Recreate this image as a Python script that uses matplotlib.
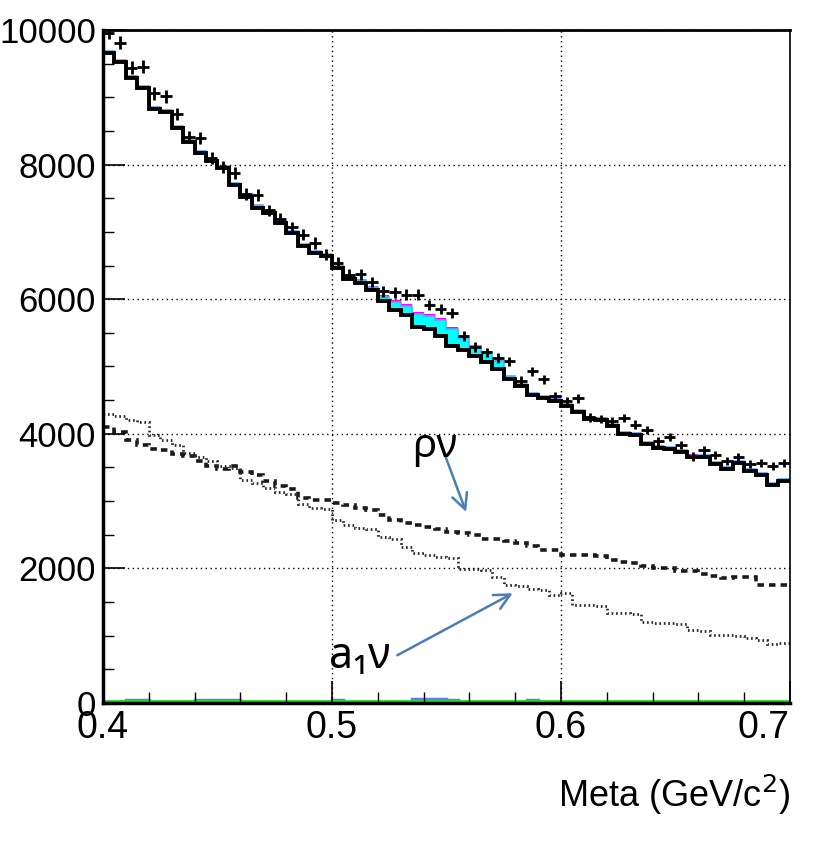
import numpy as np
import matplotlib.pyplot as plt
from matplotlib.ticker import MultipleLocator

# bins: 60 bins of 5 MeV from 0.4 to 0.7 GeV
edges = np.linspace(0.4, 0.7, 61)
centers = 0.5 * (edges[:-1] + edges[1:])

# background (black outline of the stack)
bkg = [9660, 9530, 9290, 9140, 8820, 8780, 8550, 8340, 8170, 8050,
       7950, 7700, 7520, 7360, 7280, 7130, 6990, 6790, 6690, 6640,
       6460, 6300, 6245, 6130, 5975, 5845, 5770, 5590, 5550, 5450,
       5300, 5250, 5150, 5060, 4970, 4810, 4710, 4580, 4530, 4480,
       4420, 4330, 4220, 4200, 4115, 4000, 3975, 3850, 3790, 3775,
       3725, 3650, 3650, 3550, 3480, 3565, 3440, 3390, 3235, 3305]

# stacked signal components on top of the background
cyan_sig = [30, 30, 25, 35, 30, 25, 30, 30, 25, 30,
            30, 30, 25, 35, 30, 30, 25, 30, 30, 25,
            30, 35, 40, 45, 55, 120, 125, 190, 195, 240,
            260, 180, 150, 150, 110, 45, 35, 30, 30, 30,
            25, 30, 25, 30, 30, 25, 30, 25, 30, 25,
            30, 25, 30, 25, 30, 25, 30, 25, 30, 25]
magenta_sig = [0, 0, 15, 0, 0, 15, 0, 0, 0, 15,
               0, 0, 0, 0, 0, 15, 0, 0, 0, 0,
               0, 0, 15, 20, 25, 25, 30, 30, 30, 30,
               30, 25, 25, 25, 20, 0, 0, 0, 0, 15,
               0, 0, 0, 15, 0, 0, 0, 0, 15, 0,
               0, 20, 0, 0, 0, 0, 0, 0, 0, 0]

# data points
data = [9960, 9810, 9440, 9455, 9060, 9015, 8750, 8410, 8400, 8100,
        7970, 7870, 7565, 7545, 7320, 7195, 7070, 6960, 6835, 6660,
        6540, 6365, 6370, 6255, 6116, 6102, 6067, 6067, 5918, 5850,
        5790, 5457, 5285, 5210, 5125, 5075, 4790, 4927, 4810, 4560,
        4480, 4525, 4245, 4220, 4185, 4233, 4134, 4055, 3886, 3951,
        3836, 3663, 3752, 3688, 3590, 3654, 3554, 3573, 3524, 3564]

# rho nu (dashed) and a1 nu (dotted) components
rho_nu = [4108, 4034, 3911, 3837, 3780, 3762, 3700, 3663, 3590, 3520,
          3480, 3514, 3430, 3390, 3300, 3227, 3180, 3040, 3019, 3010,
          2978, 2940, 2895, 2870, 2796, 2720, 2680, 2640, 2620, 2580,
          2540, 2520, 2490, 2434, 2434, 2400, 2370, 2340, 2275, 2275,
          2201, 2201, 2201, 2190, 2126, 2100, 2082, 2040, 2010, 2003,
          1967, 1960, 1918, 1880, 1854, 1878, 1870, 1755, 1755, 1755]
a1_nu = [4297, 4258, 4200, 4168, 3985, 3911, 3837, 3713, 3650, 3600,
         3514, 3490, 3316, 3267, 3200, 3142, 3100, 2950, 2895, 2880,
         2721, 2650, 2598, 2590, 2464, 2434, 2324, 2226, 2200, 2171,
         2150, 1988, 1988, 1980, 1878, 1755, 1740, 1691, 1680, 1606,
         1631, 1457, 1457, 1440, 1334, 1334, 1320, 1209, 1185, 1185,
         1170, 1086, 1070, 1011, 1011, 1000, 962, 940, 877, 897]

# small components near zero
blue_low = [0, 0, 45, 40, 0, 0, 0, 0, 45, 50,
            50, 45, 0, 0, 0, 0, 0, 0, 0, 0,
            40, 0, 0, 0, 0, 0, 0, 55, 60, 60,
            40, 0, 0, 0, 0, 0, 0, 40, 0, 0,
            0, 0, 0, 0, 0, 0, 0, 0, 0, 0,
            0, 0, 0, 0, 0, 0, 0, 0, 0, 0]
green_low = [20] * 60

xtick_vals = [0.4, 0.5, 0.6, 0.7]
xtick_text = ['0.4', '0.5', '0.6', '0.7']
ytick_vals = [0, 2000, 4000, 6000, 8000, 10000]
ytick_text = ['0', '2000', '4000', '6000', '8000', '10000']

bkg = np.array(bkg, float)
lvl1 = bkg + np.array(cyan_sig)
lvl2 = lvl1 + np.array(magenta_sig)

fig = plt.figure(figsize=(8.16, 8.43), dpi=100)
ax = fig.add_axes([0.1262, 0.1661, 0.8418, 0.7983])

# stacked histogram
ax.stairs(lvl2, edges, baseline=lvl1, fill=True, color='#ff00ff', lw=0)
ax.stairs(lvl1, edges, baseline=bkg, fill=True, color='#00ffff', lw=0)
ax.stairs(lvl1, edges, baseline=None, color='#55aaff', lw=1.2)
ax.stairs(bkg + 15, edges, baseline=None, color='#3d6b3d', lw=2)
ax.stairs(bkg, edges, baseline=None, color='black', lw=2.8)

# components
ax.stairs(rho_nu, edges, baseline=None, color='#1a1a1a', lw=2.6,
          linestyle=(0, (1.8, 1.4)))
ax.stairs(a1_nu, edges, baseline=None, color='#2a2a2a', lw=2.0,
          linestyle=(0, (0.6, 1.0)))
ax.stairs(blue_low, edges, baseline=None, color='#6677ff', lw=2.5)
ax.stairs(green_low, edges, baseline=None, color='#22dd22', lw=3.5)

# data points with error bars
data = np.array(data, float)
ax.errorbar(centers, data, xerr=0.0025, yerr=np.sqrt(data), fmt='none',
            ecolor='black', elinewidth=2, capsize=0, zorder=5)

ax.set_xlim(0.4, 0.7)
ax.set_ylim(0, 10000)

ax.xaxis.set_minor_locator(MultipleLocator(0.02))
ax.yaxis.set_minor_locator(MultipleLocator(500))

font = ['Liberation Sans', 'DejaVu Sans']
ax.tick_params(which='major', direction='in', length=16, width=1.2, pad=5)
ax.tick_params(which='minor', direction='in', length=8, width=1)
ax.set_xticks(xtick_vals)
ax.set_xticklabels(xtick_text, family=font, fontsize=27)
ax.set_yticks(ytick_vals)
ax.set_yticklabels(ytick_text, family=font, fontsize=25)
ax.get_xticklabels()[-1].set_horizontalalignment('right')
ax.get_xticklabels()[0].set_horizontalalignment('center')
ax.grid(which='major', color='black', linestyle=(0, (1, 2.5)), lw=1)

for side in ['left', 'bottom']:
    ax.spines[side].set_linewidth(2.5)
ax.spines['top'].set_linewidth(2)
ax.spines['right'].set_linewidth(1.2)

fig.text(0.968, 0.057, 'Meta (GeV/c$^2$)', ha='right', va='center',
         fontsize=26, family=font)

# labels with arrows
arrow_col = '#4a7ebb'
ax.annotate('', xy=(0.559, 2800), xytext=(0.547, 3900),
            arrowprops=dict(arrowstyle='->', color=arrow_col, lw=1.8,
                            mutation_scale=28))
ax.text(0.535, 3800, 'ρν', fontsize=29, ha='left', va='center',
        family=['Noto Sans', 'DejaVu Sans'])
ax.annotate('', xy=(0.580, 1650), xytext=(0.5275, 690),
            arrowprops=dict(arrowstyle='->', color=arrow_col, lw=1.8,
                            mutation_scale=28))
ax.text(0.5255, 690, 'a₁ν', fontsize=31, ha='right', va='center',
        family=['Noto Sans', 'DejaVu Sans'])

fig.savefig('out.png', dpi=100)
